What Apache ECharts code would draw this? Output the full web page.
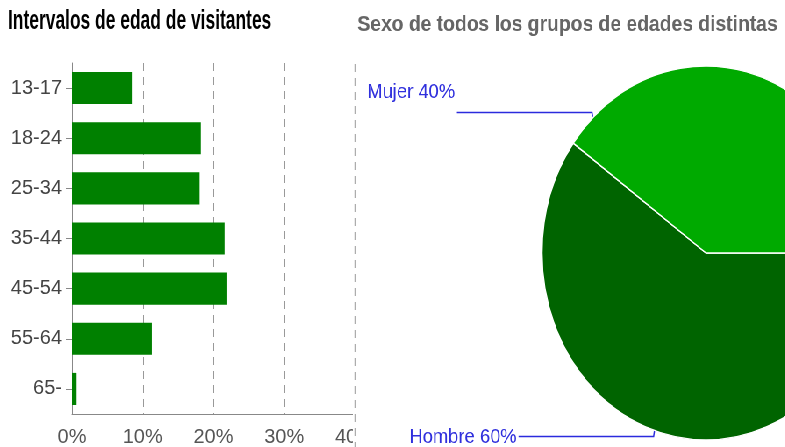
<!DOCTYPE html>
<html>
<head>
<meta charset="utf-8">
<script src="https://cdn.jsdelivr.net/npm/echarts@6/dist/echarts.min.js"></script>
<style>
html, body { margin: 0; padding: 0; background: #fff; overflow: hidden; }
#bars { position: absolute; left: 0; top: 0; width: 785px; height: 447px; }
/* the pie panel of the original is squashed horizontally */
#pie {
  position: absolute; left: 353px; top: 0; width: 600px; height: 447px;
  background: #fff; transform: scaleX(0.877); transform-origin: 0 0;
}
</style>
</head>
<body>
<div id="bars"></div>
<div id="pie"></div>
<script>
var ageGroups = ["13-17", "18-24", "25-34", "35-44", "45-54", "55-64", "65-"];
var agePercent = [8.5, 18.2, 18.0, 21.6, 21.9, 11.3, 0.6];
var sexNames = ["Hombre", "Mujer"];
var sexPercent = [60, 40];
var sexColors = ["#006400", "#00aa00"];

var font = "Liberation Sans, Arial, sans-serif";

var barChart = echarts.init(document.getElementById("bars"));
barChart.setOption({
  animation: false,
  graphic: [
    {
      type: "text",
      x: 8,
      y: 8,
      scaleX: 0.645,
      style: {
        text: "Intervalos de edad de visitantes",
        font: "bold 27px Liberation Sans",
        fill: "#000"
      }
    }
  ],
  grid: { left: 72, right: 430, top: 63, bottom: 32 },
  xAxis: {
    type: "value",
    min: 0,
    max: 40,
    interval: 10,
    axisLine: { show: true, lineStyle: { color: "#888" } },
    axisTick: { show: false },
    axisLabel: {
      formatter: "{value}%",
      color: "#555",
      fontSize: 20,
      fontFamily: font,
      margin: 13
    },
    splitLine: { show: true, lineStyle: { color: "#999", type: [8, 6] } }
  },
  yAxis: {
    type: "category",
    data: ageGroups,
    inverse: true,
    axisLine: { show: true, lineStyle: { color: "#888" } },
    axisTick: { show: true, alignWithLabel: true, length: 6, lineStyle: { color: "#888" } },
    axisLabel: { color: "#444", fontSize: 20, fontFamily: font, margin: 10 }
  },
  series: [
    {
      type: "bar",
      data: agePercent,
      barCategoryGap: "36%",
      itemStyle: { color: "#008000" }
    }
  ]
});

// pie geometry (in the unscaled pie canvas)
var cx = 402.5, cy = 253, R = 187;
var labelAngles = [251.7, 133.6]; // where each leader line meets the rim

function leaderLayout(p) {
  var a = labelAngles[p.dataIndex] * Math.PI / 180;
  var x0 = cx + R * Math.cos(a);
  var y0 = cy - R * Math.sin(a);
  var up = p.dataIndex === 1;
  var y1 = y0 + (up ? -5 : 6);
  var x2 = x0 - 155;
  return {
    x: x2 - 2,
    y: up ? y1 - 10 : y1 + 1,
    width: 200,
    align: "right",
    verticalAlign: up ? "bottom" : "middle",
    labelLinePoints: [[x0, y0], [x0 - 1, y1], [x2, y1]]
  };
}

var pieChart = echarts.init(document.getElementById("pie"));
pieChart.setOption({
  animation: false,
  graphic: [
    {
      type: "text",
      x: 5,
      y: 14,
      style: {
        text: "Sexo de todos los grupos de edades distintas",
        font: "bold 22px Liberation Sans",
        fill: "#666"
      }
    },
    {
      type: "line",
      shape: { x1: 2.3, y1: 64, x2: 2.3, y2: 447 },
      style: { stroke: "#999", lineWidth: 1, lineDash: [8, 6] }
    }
  ],
  series: [
    {
      type: "pie",
      center: [cx, cy],
      radius: R,
      startAngle: 0,
      clockwise: true,
      silent: true,
      itemStyle: { borderColor: "#fff", borderWidth: 1.5 },
      label: {
        show: true,
        formatter: "{b} {c}%",
        color: "#3030dd",
        fontSize: 21,
        fontFamily: font,
        overflow: "none"
      },
      labelLine: { show: true, lineStyle: { color: "#2b2bdd", width: 1.5 } },
      labelLayout: leaderLayout,
      data: sexNames.map(function (n, i) {
        return { name: n, value: sexPercent[i], itemStyle: { color: sexColors[i] } };
      })
    }
  ]
});
</script>
</body>
</html>
